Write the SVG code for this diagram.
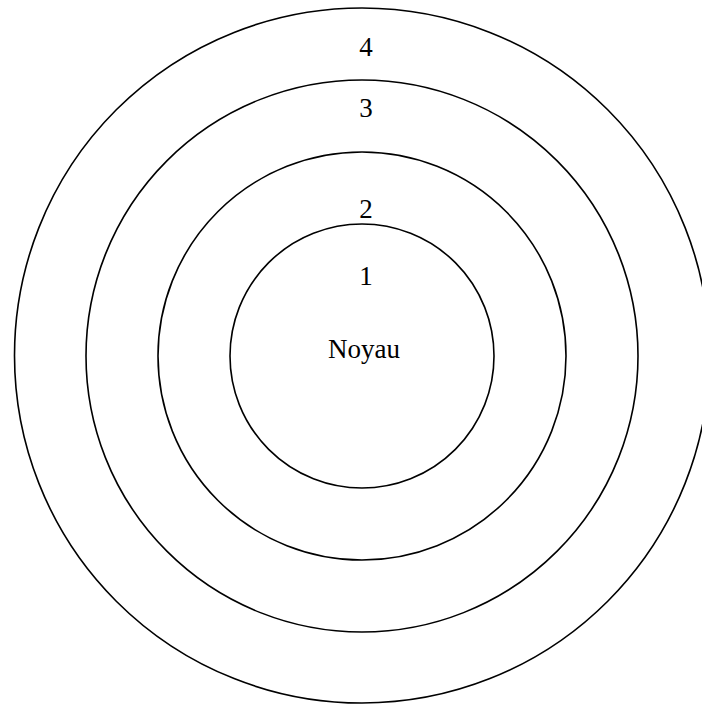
<svg xmlns="http://www.w3.org/2000/svg" width="702" height="705" viewBox="0 0 702 705">
<style>
.ring{fill:none;stroke:#000;stroke-width:1.6}
.lbl{font-family:"Liberation Serif","Times New Roman",serif;font-size:27px;fill:#000;text-anchor:middle}
</style>
<rect width="702" height="705" fill="#fff"/>
<g id="ring4"><circle class="ring" cx="362" cy="355.5" r="347.5"/><text class="lbl" x="366" y="56">4</text></g>
<g id="ring3"><circle class="ring" cx="362" cy="356" r="276"/><text class="lbl" x="366" y="117">3</text></g>
<g id="ring2"><circle class="ring" cx="362" cy="356" r="204"/><text class="lbl" x="366" y="218">2</text></g>
<g id="ring1"><circle class="ring" cx="362" cy="356" r="132"/><text class="lbl" x="366" y="285">1</text></g>
<g id="noyau"><text class="lbl" x="364" y="358">Noyau</text></g>
</svg>
